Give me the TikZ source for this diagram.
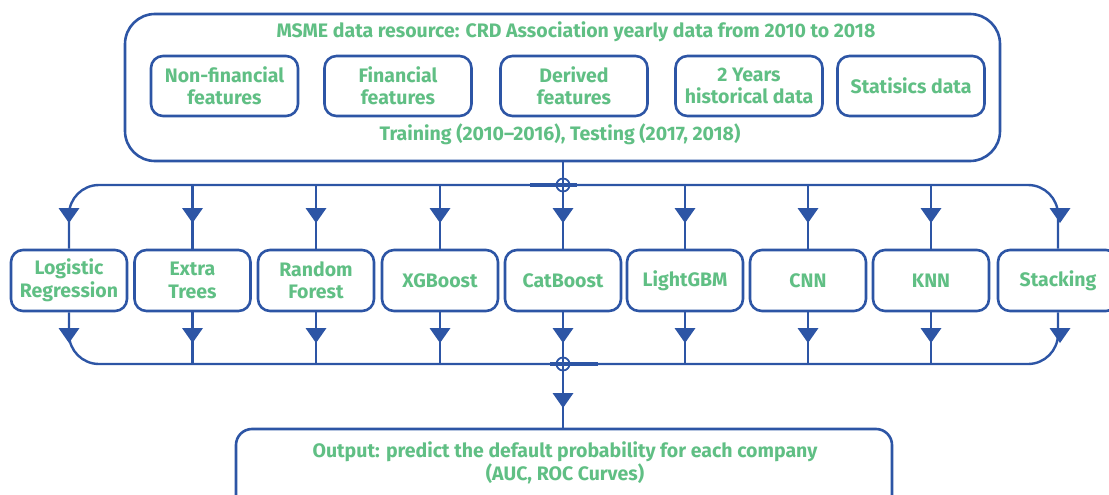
\documentclass[tikz,border=0pt]{standalone}
\usepackage{fontspec}
\setmainfont{Fira Sans}
\usetikzlibrary{positioning}
\definecolor{lineblue}{RGB}{45,85,165}
\definecolor{txtgreen}{RGB}{96,191,132}
\begin{document}
\begin{tikzpicture}[x=1pt,y=-1pt,
  box/.style={draw=lineblue, line width=2.6pt, rounded corners=12pt, fill=white,
     text=txtgreen, font=\fontsize{19.5}{22.5}\selectfont\bfseries, align=center, inner sep=0pt},
  lbl/.style={text=txtgreen, font=\fontsize{19.5}{22.5}\selectfont\bfseries, align=center, inner sep=0pt},
  bus/.style={draw=lineblue, line width=2.4pt},
  thick bus/.style={draw=lineblue, line width=4pt}]
\useasboundingbox (0,0) rectangle (1109,495);
\newcommand{\ahead}[2]{\fill[lineblue] (#1-10.5,#2-15) -- (#1+10.5,#2-15) -- (#1,#2) -- cycle;}

% top container
\node[box, rounded corners=30pt, minimum width=875pt, minimum height=147pt] (src) at (562.5,87.5) {};
\node[lbl] (title) at (576,32) {MSME data resource: CRD Association yearly data from 2010 to 2018};
\node[lbl] (split) at (560,134) {Training (2010–2016), Testing (2017, 2018)};
\node[box, minimum width=147pt, minimum height=60pt] (f1) at (224.5,86) {Non-financial\\features};
\node[box, minimum width=147pt, minimum height=60pt] (f2) at (398,86) {Financial\\features};
\node[box, minimum width=147pt, minimum height=60pt] (f3) at (574,86) {Derived\\features};
\node[box, minimum width=147pt, minimum height=60pt] (f4) at (749,86) {2 Years\\historical data};
\node[box, minimum width=147pt, minimum height=60pt] (f5) at (911,86) {Statisics data};

% models
\foreach \n/\x/\t in {m1/69/{Logistic\\Regression}, m2/192.5/{Extra\\Trees}, m3/316/{Random\\Forest},
   m4/440/XGBoost, m5/563/CatBoost, m6/685/LightGBM, m7/808/CNN, m8/931/KNN}
  \node[box, minimum width=116pt, minimum height=61pt] (\n) at (\x,280.5) {\t};
\node[box, minimum width=120pt, minimum height=61pt] (m9) at (1058,280.5) {Stacking};

% output
\node[box, rounded corners=16pt, minimum width=656pt, minimum height=90pt] (out) at (564,474) {};
\node[lbl] (outtxt) at (565,463) {Output: predict the default probability for each company\\(AUC, ROC Curves)};

\coordinate (topj) at (563,185);
\coordinate (botj) at (563,364);

% top bus
\draw[bus, rounded corners=30pt] (m1.north) |- (topj) -| (m9.north);
\draw[thick bus] (530,185) -- (577,185);
\draw[bus] (src.south -| topj) -- (m5.north);
\foreach \n in {m2,m3,m4,m6,m7,m8}
  \draw[bus] (\n.north |- topj) -- (\n.north);
\draw[lineblue, line width=1.8pt] (topj) circle (6.5pt);

% bottom bus
\draw[bus, rounded corners=30pt] (m1.south) |- (botj) -| (m9.south);
\draw[thick bus] (550,364) -- (598,364);
\foreach \n in {m2,m3,m4,m5,m6,m7,m8}
  \draw[bus] (\n.south) -- (\n.south |- botj);
\draw[bus] (botj) -- (out.north -| botj);
\draw[lineblue, line width=1.8pt] (botj) circle (6.5pt);

% arrowheads
\foreach \x in {69,192.5,316,440,563,685,808,931,1060} {\ahead{\x}{223}}
\foreach \x in {69,192.5,316,440,563,685,808,931,1060} {\ahead{\x}{343}}
\ahead{563}{408}
\end{tikzpicture}
\end{document}
